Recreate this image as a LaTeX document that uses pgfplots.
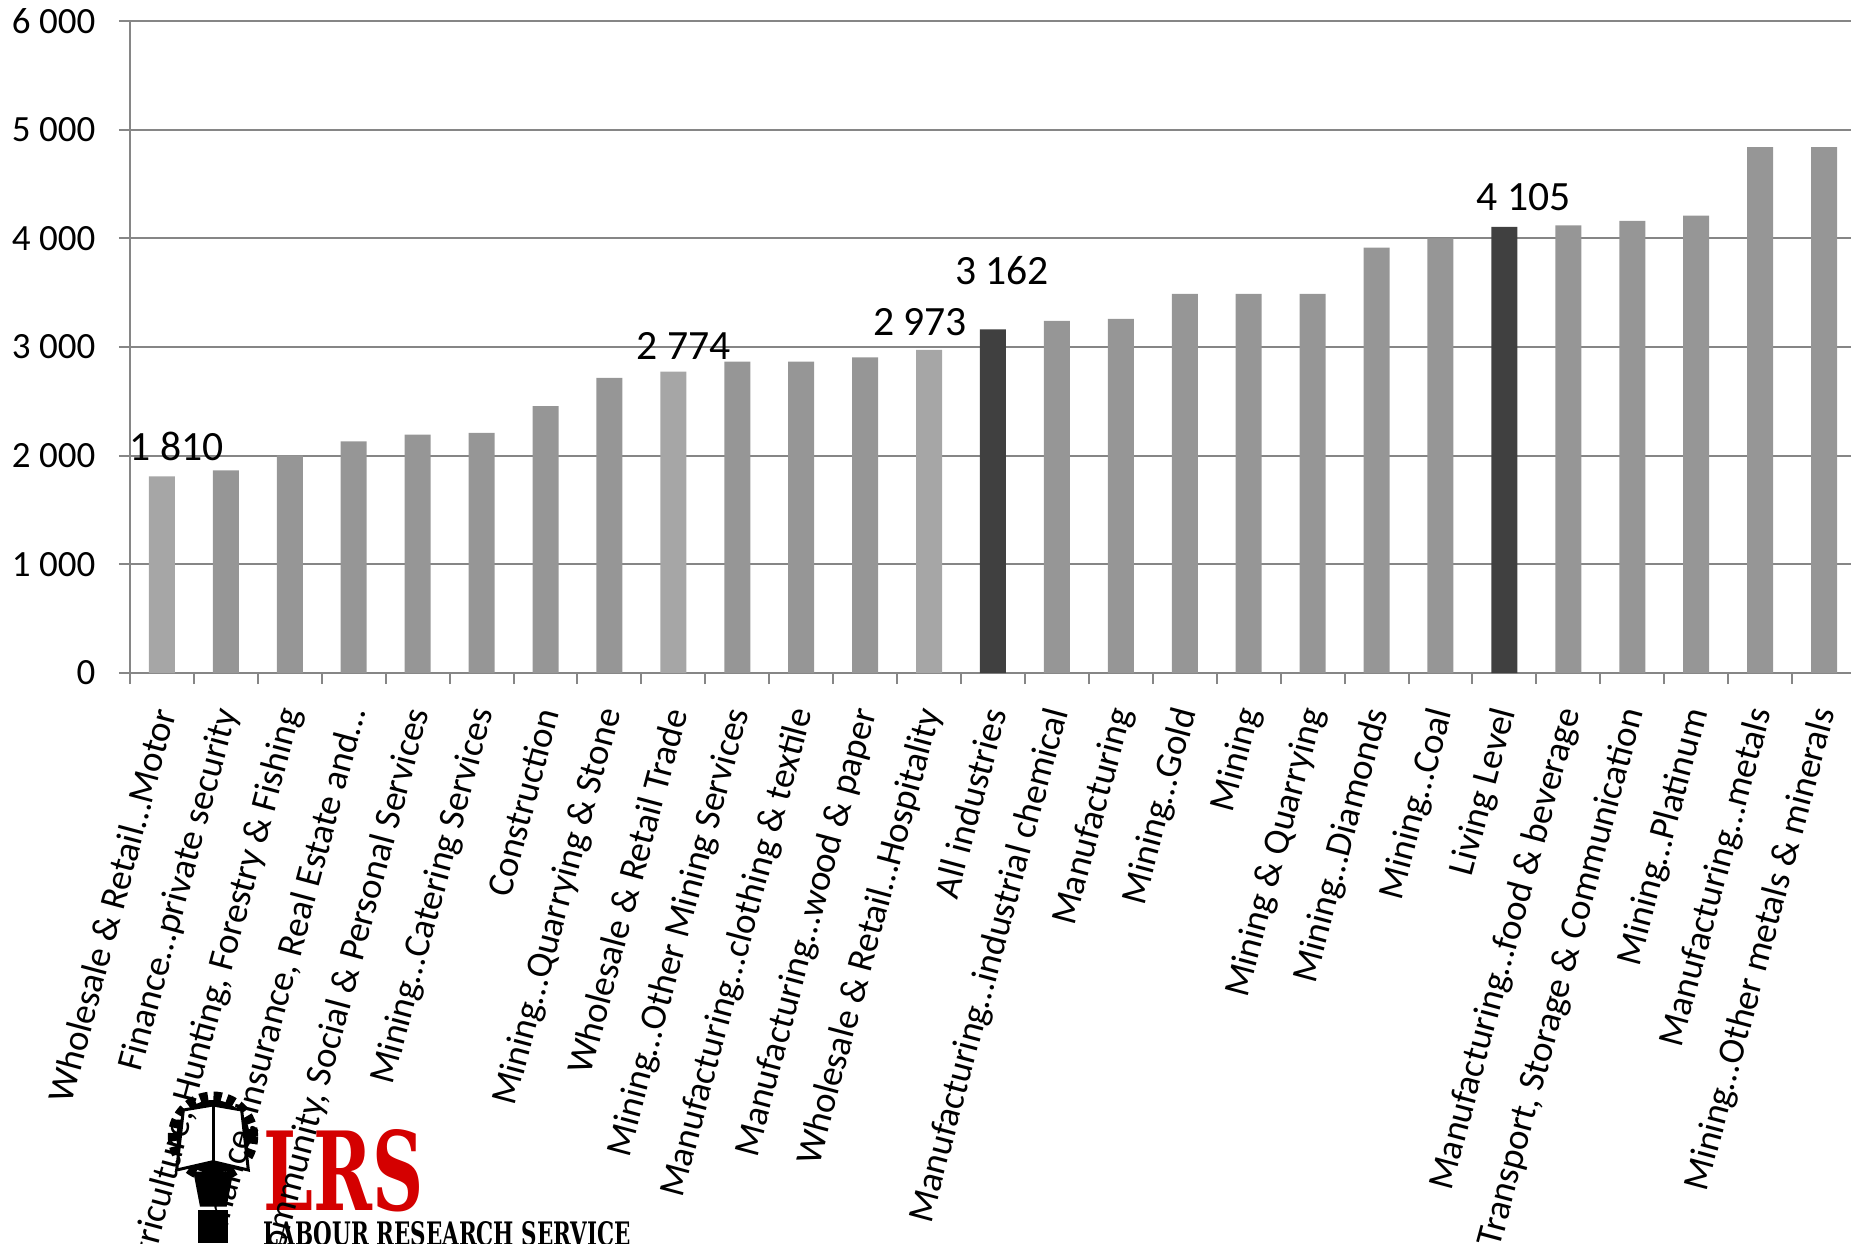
\documentclass[border=0pt]{standalone}
\usepackage{pgfplots}
\pgfplotsset{compat=1.18}
\usepackage{fontspec}
\setmainfont{Carlito}
\newfontfamily\logofont{DejaVu Serif}

\definecolor{barmid}{HTML}{969696}
\definecolor{barlight}{HTML}{A6A6A6}
\definecolor{bardark}{HTML}{404040}
\definecolor{gridgray}{HTML}{868686}
\definecolor{lrsred}{HTML}{D40000}

\pgfplotstableread{
x y
2 1864
3 2004
4 2132
5 2193
6 2210
7 2457
8 2716
10 2865
11 2865
12 2905
15 3240
16 3258
17 3490
18 3490
19 3490
20 3915
21 4000
23 4120
24 4160
25 4210
26 4840
27 4840
}\midbars

\pgfplotstableread{
x y
1 1810
9 2774
13 2973
}\lightbars

\pgfplotstableread{
x y
14 3162
22 4105
}\darkbars

\begin{document}
\begin{tikzpicture}
% page = 1851 x 1243 px at 0.3pt per px
\useasboundingbox (0,0) rectangle (555.3pt,-372.9pt);

% logo (drawn first so the labels lie over it)
\fill[black] (63.9pt,-341pt) circle (11pt);
\draw[black, line width=3.5pt, dash pattern=on 2.4pt off 1.6pt] (63.9pt,-341pt) circle (11.8pt);
\fill[white] (55pt,-333pt) -- (63.9pt,-331.5pt) -- (72.5pt,-333pt) -- (74.5pt,-351pt) -- (63.9pt,-348.5pt) -- (53pt,-351pt) -- cycle;
\draw[black, line width=0.9pt] (55pt,-333pt) -- (63.9pt,-331.5pt) -- (72.5pt,-333pt) -- (74.5pt,-351pt) -- (63.9pt,-348.5pt) -- (53pt,-351pt) -- cycle;
\draw[black, line width=0.9pt] (63.9pt,-331.5pt) -- (63.9pt,-348.5pt);
\fill[black] (58pt,-351.5pt) -- (70pt,-351.5pt) -- (68pt,-362pt) -- (60pt,-362pt) -- cycle;
\fill[black] (59.5pt,-363pt) rectangle (68.5pt,-373pt);
\node[anchor=south west, inner sep=0pt, text=lrsred] at (78.9pt,-363.9pt)
  {\resizebox{48pt}{24.3pt}{\logofont\bfseries LRS}};
\node[anchor=north west, inner sep=0pt] at (78.9pt,-366.3pt)
  {\resizebox{110.1pt}{7.2pt}{\logofont\bfseries LABOUR RESEARCH SERVICE}};

\begin{axis}[
  at={(39pt,-201.9pt)}, anchor=south west,
  scale only axis, width=517.8pt, height=195.6pt,
  xmin=0.5, xmax=27.5, ymin=0, ymax=6000,
  axis x line*=bottom, axis y line*=left,
  axis line style={draw=gridgray, line width=0.6pt},
  ymajorgrids, grid style={draw=gridgray, line width=0.6pt},
  tick align=outside,
  ytick={0,1000,...,6000},
  yticklabels={0,1 000,2 000,3 000,4 000,5 000,6 000},
  major tick length=3.3pt,
  minor tick length=3.3pt,
  tick style={draw=gridgray, line width=0.6pt},
  xtick={1,...,27},
  major x tick style={draw=none},
  minor xtick={0.5,1.5,...,27.5},
  yticklabel style={font=\fontsize{11.1}{13}\selectfont, inner sep=0pt, xshift=-6.9pt},
  % shifts act along/across the rotated text
  xticklabel style={font=\fontsize{11.1}{13}\selectfont, rotate=75, anchor=east, inner sep=0pt, xshift=-7pt, yshift=-2.6pt},
  xticklabels={
    Wholesale \& Retail…Motor,
    Finance…private security,
    {Agriculture, Hunting, Forestry \& Fishing},
    {Finance, Insurance, Real Estate and…},
    {Community, Social \& Personal Services},
    Mining…Catering Services,
    Construction,
    Mining…Quarrying \& Stone,
    Wholesale \& Retail Trade,
    Mining…Other Mining Services,
    Manufacturing…clothing \& textile,
    Manufacturing…wood \& paper,
    Wholesale \& Retail…Hospitality,
    All industries,
    Manufacturing…industrial chemical,
    Manufacturing,
    Mining…Gold,
    Mining,
    Mining \& Quarrying,
    Mining…Diamonds,
    Mining…Coal,
    Living Level,
    Manufacturing…food \& beverage,
    {Transport, Storage \& Communication},
    Mining…Platinum,
    Manufacturing…metals,
    Mining…Other metals \& minerals},
  clip=false,
]
\addplot[ybar, bar width=7.8pt, bar shift=0pt, fill=barmid, draw=none] table[x=x,y=y] {\midbars};
\addplot[ybar, bar width=7.8pt, bar shift=0pt, fill=barlight, draw=none] table[x=x,y=y] {\lightbars};
\addplot[ybar, bar width=7.8pt, bar shift=0pt, fill=bardark, draw=none] table[x=x,y=y] {\darkbars};

\begin{scope}[every node/.style={font=\fontsize{12.5}{14}\selectfont, inner sep=0pt}]
\node at (axis cs:1.23,2088) {1 810};
\node at (axis cs:9.16,3008) {2 774};
\node at (axis cs:12.86,3229) {2 973};
\node at (axis cs:14.14,3707) {3 162};
\node at (axis cs:22.3,4379) {4 105};
\end{scope}
\end{axis}
\end{tikzpicture}
\end{document}
